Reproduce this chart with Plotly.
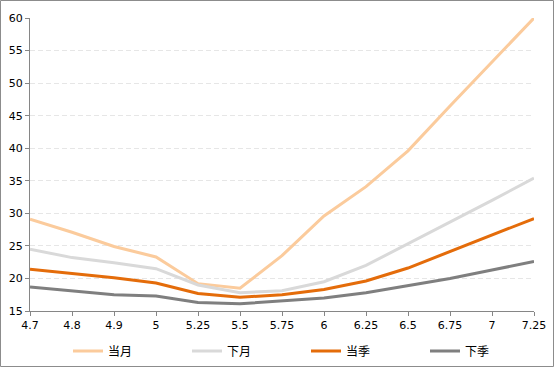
import plotly.graph_objects as go

categories = ["4.7", "4.8", "4.9", "5", "5.25", "5.5", "5.75", "6", "6.25", "6.5", "6.75", "7", "7.25"]
dangyue = [29.1, 27.1, 24.9, 23.3, 19.2, 18.5, 23.5, 29.6, 34.1, 39.6, 46.5, 53.2, 60.0]
xiayue = [24.5, 23.2, 22.4, 21.5, 19.0, 17.8, 18.1, 19.5, 22.0, 25.3, 28.7, 32.0, 35.4]
dangji = [21.4, 20.8, 20.1, 19.3, 17.7, 17.1, 17.5, 18.3, 19.6, 21.6, 24.1, 26.7, 29.2]
xiaji = [18.7, 18.1, 17.5, 17.3, 16.3, 16.1, 16.5, 17.0, 17.8, 18.9, 20.0, 21.3, 22.6]
series_names = ["当月", "下月", "当季", "下季"]
series_colors = ["#FBCB9C", "#D9D9D9", "#E46C0A", "#7F7F7F"]
y_ticks = [15, 20, 25, 30, 35, 40, 45, 50, 55, 60]

idx = list(range(len(categories)))
fig = go.Figure()
for name, vals, col in zip(series_names, [dangyue, xiayue, dangji, xiaji], series_colors):
    fig.add_trace(go.Scatter(x=idx, y=vals, name=name, mode="lines",
                             line=dict(color=col, width=3)))

W, H = 554, 367
ml, mr, mt, mb = 30, 20, 18, 56
pw, ph = W - ml - mr, H - mt - mb

fig.update_layout(
    width=W, height=H,
    margin=dict(l=ml, r=mr, t=mt, b=mb, autoexpand=False),
    paper_bgcolor="white", plot_bgcolor="white",
    font=dict(family="DejaVu Sans, Noto Sans CJK SC", size=11, color="#000000"),
    showlegend=True,
    legend=dict(orientation="h", x=(68 - ml) / pw, xanchor="left",
                y=-(351 - mt - ph) / ph, yanchor="middle",
                entrywidth=74, entrywidthmode="pixels",
                font=dict(family="Noto Sans CJK SC", size=12, color="#000000"),
                itemclick=False, tracegroupgap=0, bgcolor="rgba(0,0,0,0)"),
    xaxis=dict(range=[0, 12], tickmode="array", tickvals=idx, ticktext=categories,
               showgrid=False, zeroline=False, showline=True, linecolor="#868686",
               linewidth=1, ticks="outside", ticklen=4, tickcolor="#868686",
               tickfont=dict(family="DejaVu Sans", size=11, color="#000000")),
    yaxis=dict(range=[15, 60], tickmode="array", tickvals=y_ticks,
               showgrid=True, gridcolor="#E6E6E6", griddash="5px,3px", gridwidth=1,
               zeroline=False, showline=True, linecolor="#868686", linewidth=1,
               ticks="outside", ticklen=4, tickcolor="#868686",
               tickfont=dict(family="DejaVu Sans", size=11, color="#000000")),
)
fig.add_shape(type="rect", xref="paper", yref="paper",
              x0=-(ml - 0.5) / pw, x1=1 + (mr - 0.5) / pw,
              y0=-(mb - 0.5) / ph, y1=1 + (mt - 0.5) / ph,
              line=dict(color="#8C8C8C", width=1), layer="below")
fig.write_html("out.html", config={"displayModeBar": False},
               post_script="document.body.style.margin='0';document.body.style.padding='0';")
